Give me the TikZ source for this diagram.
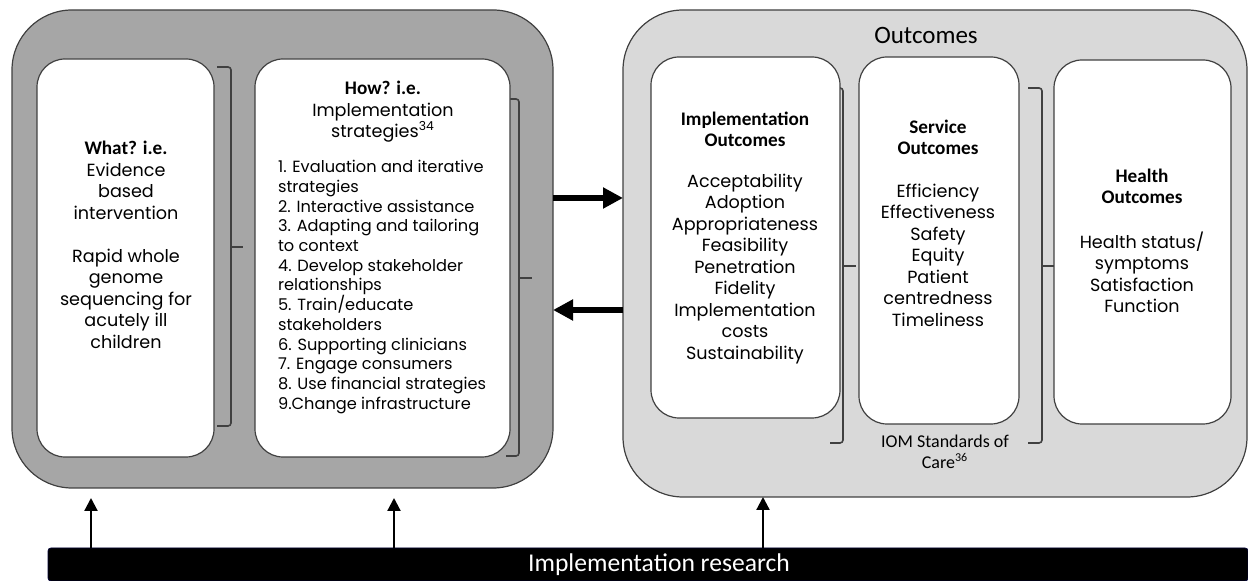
\documentclass[tikz,border=0pt]{standalone}
\usepackage{fontspec}
\setmainfont{Poppins}
\newfontfamily\calib{Carlito}
\usetikzlibrary{arrows.meta,positioning}
\colorlet{darkpanel}{black!35}
\colorlet{lightpanel}{black!15}
\colorlet{edge}{black!75}
\tikzset{bigarrow/.style={line width=3.3pt,-{Triangle[length=10pt,width=10pt]}}}
\tikzset{uparrow/.style={line width=1.1pt,-{Triangle[length=6.5pt,width=6.5pt]}}}
\tikzset{brace/.style={edge,line width=0.8pt,rounded corners=1.5pt}}
\tikzset{panel/.style={draw=edge,line width=0.6pt,rounded corners=30pt,inner sep=0pt,outer sep=0pt}}
\tikzset{innerbox/.style={draw=edge,line width=0.6pt,fill=white,rounded corners=14pt,inner sep=0pt,outer sep=0pt}}
\tikzset{head/.style={font=\calib\bfseries\fontsize{9.6}{10.75}\selectfont,align=center}}
\tikzset{body/.style={font=\fontsize{8.8}{10.75}\selectfont,align=center}}
\tikzset{listtext/.style={font=\fontsize{8.1}{9.85}\selectfont,align=left,anchor=west}}
\def\blank{\\[10.75pt]}

\begin{document}
\begin{tikzpicture}[x=0.5pt,y=-0.5pt]
  \useasboundingbox (0,0) rectangle (1248,581);
  % the two big panels
  \node(leftpanel)[panel,fill=darkpanel,minimum width=270.5pt,minimum height=239pt] at (282.5,249) {};
  \node(rightpanel)[panel,fill=lightpanel,minimum width=312pt,minimum height=243.5pt] at (935,253.5) {};
  \node(outtitle)[font=\calib\fontsize{12.5}{14}\selectfont] at (926,35) {Outcomes};

  % brackets
  \draw[brace] (217,67) -- (231,67) -- (231,426) -- (217,426);
  \draw[brace] (231,247) -- (243,247);
  \draw[brace] (506,99) -- (519,99) -- (519,456) -- (506,456);
  \draw[brace] (519,278) -- (532,278);
  \draw[brace] (838,88) -- (843,88) -- (843,443) -- (830,443);
  \draw[brace] (843,266) -- (856,266);
  \draw[brace] (1028,88) -- (1042,88) -- (1042,443) -- (1028,443);
  \draw[brace] (1042,266) -- (1055,266);

  % inner boxes
  \node(whatbox)[innerbox,minimum width=88.5pt,minimum height=199pt] at (125.5,258) {};
  \node(howbox)[innerbox,minimum width=127.5pt,minimum height=199pt] at (382.5,258) {};
  \node(implbox)[innerbox,minimum width=94.5pt,minimum height=180.5pt] at (745.5,237.5) {};
  \node(servbox)[innerbox,minimum width=80pt,minimum height=183.5pt] at (939,240.5) {};
  \node(healthbox)[innerbox,minimum width=88.5pt,minimum height=182pt] at (1142.5,242) {};

  % texts
  \node(whathead)[head] at (126,148) {What? i.e.};
  \node(whattext)[body,below=-3pt of whathead] {Evidence\\based\\intervention\blank Rapid whole\\genome\\sequencing for\\acutely ill\\children};
  \node(howhead)[head] at (383,88) {How? i.e.};
  \node(howsub)[body,below=-3pt of howhead] {Implementation\\strategies\textsuperscript{34}};
  \node(howlist)[listtext] at (271,287) {1. Evaluation and iterative\\strategies\\2. Interactive assistance\\3. Adapting and tailoring\\to context\\4. Develop stakeholder\\relationships\\5. Train/educate\\stakeholders\\6. Supporting clinicians\\7. Engage consumers\\8. Use financial strategies\\9.Change infrastructure};
  \node(implhead)[head] at (745,129.5) {Implementation\\Outcomes};
  \node(impltext)[body] at (745,269) {Acceptability\\Adoption\\Appropriateness\\Feasibility\\Penetration\\Fidelity\\Implementation\\costs\\Sustainability};
  \node(servhead)[head] at (938,137.5) {Service\\Outcomes};
  \node(servtext)[body] at (938,255) {Efficiency\\Effectiveness\\Safety\\Equity\\Patient\\centredness\\Timeliness};
  \node(healthhead)[head] at (1142,186.5) {Health\\Outcomes};
  \node(healthtext)[body] at (1142,272.5) {Health status/\\symptoms\\Satisfaction\\Function};
  \node(iom)[font=\calib\fontsize{9}{10.5}\selectfont,align=center] at (945,452) {IOM Standards of\\Care\textsuperscript{36}};

  % research bar
  \node(research)[fill=black,draw=black!80!blue,rounded corners=1.5pt,inner sep=0pt,outer sep=0pt,minimum width=600pt,minimum height=16.5pt,text=white,font=\calib\fontsize{12.8}{14}\selectfont] at (648,564.5) {\hspace*{11pt}Implementation research};

  % arrows
  \draw[bigarrow] (leftpanel.east |- 0,198) -- (rightpanel.west |- 0,198);
  \draw[bigarrow] (rightpanel.west |- 0,310) -- (leftpanel.east |- 0,310);
  \draw[uparrow,shorten >=5pt] (research.north -| 91,0) -- (leftpanel.south -| 91,0);
  \draw[uparrow,shorten >=5pt] (research.north -| 394,0) -- (leftpanel.south -| 394,0);
  \draw[uparrow] (research.north -| 763,0) -- (rightpanel.south -| 763,0);
\end{tikzpicture}
\end{document}
